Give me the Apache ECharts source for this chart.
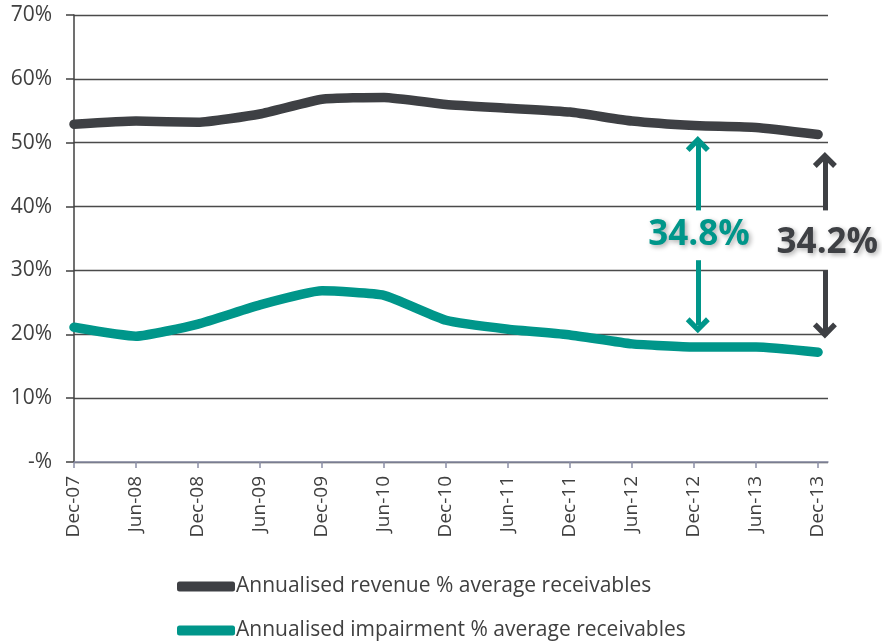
<!DOCTYPE html>
<html>
<head>
<meta charset="utf-8">
<script src="https://cdn.jsdelivr.net/npm/echarts@6/dist/echarts.min.js"></script>
<style>
  html, body { margin: 0; padding: 0; background: #fff; }
  #main { width: 882px; height: 644px; }
</style>
</head>
<body>
<div id="main"></div>
<script>
// data
var categories = ['Dec-07', 'Jun-08', 'Dec-08', 'Jun-09', 'Dec-09', 'Jun-10', 'Dec-10',
  'Jun-11', 'Dec-11', 'Jun-12', 'Dec-12', 'Jun-13', 'Dec-13'];
var revenue = [52.9, 53.4, 53.2, 54.5, 56.8, 57.1, 56.0, 55.4, 54.8, 53.4, 52.7, 52.4, 51.3];
var impairment = [21.1, 19.7, 21.6, 24.6, 26.8, 26.1, 22.2, 20.8, 19.9, 18.5, 18.0, 18.0, 17.2];
var seriesNames = ['Annualised revenue % average receivables', 'Annualised impairment % average receivables'];
var gapRevLabel = '34.8%';
var gapNowLabel = '34.2%';

var DARK = '#3e4044';
var TEAL = '#00968a';
var FONT = 'Open Sans';

// chevron arrow head pointing up
var chevron = 'path://M0,12 L12,0 L24,12 L20.2,15.8 L12,7.6 L3.8,15.8 Z';

var myChart = echarts.init(document.getElementById('main'));

function pairs(arr) {
  return arr.map(function (v, i) { return [i, v]; });
}

function arrowSeg(x, from, to, color) {
  return [
    { coord: [x, from], lineStyle: { color: color, width: 5, type: 'solid' } },
    { coord: [x, to] }
  ];
}

function head(x, y, up, color) {
  return {
    coord: [x, y],
    symbol: chevron,
    symbolSize: [24, 16],
    symbolRotate: up ? 0 : 180,
    itemStyle: { color: color },
    label: { show: false }
  };
}

function bigLabel(x, y, text, color) {
  return {
    coord: [x, y],
    symbol: 'rect',
    symbolSize: 0,
    label: {
      show: true,
      formatter: text,
      fontSize: 35,
      fontWeight: 'bold',
      color: color,
      fontFamily: FONT,
      textShadowColor: 'rgba(0,0,0,0.33)',
      textShadowBlur: 5,
      textShadowOffsetX: 2,
      textShadowOffsetY: 2
    }
  };
}

function legendAt(top, name) {
  return {
    orient: 'horizontal',
    left: 172,
    top: top,
    itemWidth: 58,
    itemHeight: 10,
    icon: 'roundRect',
    textStyle: { fontSize: 21, color: '#404040', fontFamily: FONT, padding: [0, 0, 0, -4] },
    data: [name]
  };
}

var tickIdx = categories.map(function (c, i) { return i; });

var option = {
  animation: false,
  textStyle: { fontFamily: FONT },
  grid: { left: 74, right: 54, top: 15, bottom: 182, containLabel: false },
  legend: [legendAt(571, seriesNames[0]), legendAt(615, seriesNames[1])],
  xAxis: {
    type: 'value',
    min: 0,
    max: 12.16,
    interval: 1,
    splitLine: { show: false },
    axisLine: { show: true, lineStyle: { color: '#8a8ea6', width: 1.5 } },
    axisTick: { show: true, length: 6, lineStyle: { color: '#8a8ea6', width: 1.5 },
      customValues: tickIdx },
    axisLabel: {
      rotate: 90,
      margin: 14,
      fontSize: 19,
      color: '#404040',
      customValues: tickIdx,
      formatter: function (v) { return categories[v] || ''; }
    }
  },
  yAxis: {
    type: 'value',
    min: 0,
    max: 70,
    interval: 10,
    axisLine: { show: true, lineStyle: { color: '#404040', width: 1.5 } },
    axisTick: { show: true, length: 8, lineStyle: { color: '#404040', width: 1.5 } },
    splitLine: { show: true, lineStyle: { color: '#4a4a4a', width: 1.3 } },
    axisLabel: {
      margin: 22,
      fontSize: 21,
      color: '#404040',
      formatter: function (v) { return v === 0 ? '-%' : v + '%'; }
    }
  },
  series: [
    {
      name: seriesNames[0],
      type: 'line',
      data: pairs(revenue),
      smooth: 0.15,
      symbol: 'none',
      color: DARK,
      lineStyle: { color: DARK, width: 9.5, cap: 'round', join: 'round' },
      markLine: {
        silent: true,
        symbol: 'none',
        label: { show: false },
        data: [
          arrowSeg(12.11, 39.4, 47.4, DARK),
          arrowSeg(12.11, 30.0, 20.5, DARK)
        ]
      },
      markPoint: {
        silent: true,
        data: [
          head(12.11, 47.3, true, DARK),
          head(12.11, 20.6, false, DARK),
          bigLabel(12.15, 34.3, gapNowLabel, DARK)
        ]
      }
    },
    {
      name: seriesNames[1],
      type: 'line',
      data: pairs(impairment),
      smooth: 0.15,
      symbol: 'none',
      color: TEAL,
      lineStyle: { color: TEAL, width: 9.5, cap: 'round', join: 'round' },
      markLine: {
        silent: true,
        symbol: 'none',
        label: { show: false },
        data: [
          arrowSeg(10.06, 39.4, 49.8, TEAL),
          arrowSeg(10.06, 31.6, 21.4, TEAL)
        ]
      },
      markPoint: {
        silent: true,
        data: [
          head(10.06, 49.8, true, TEAL),
          head(10.06, 21.4, false, TEAL),
          bigLabel(10.08, 35.5, gapRevLabel, TEAL)
        ]
      }
    }
  ]
};

myChart.setOption(option);
</script>
</body>
</html>
